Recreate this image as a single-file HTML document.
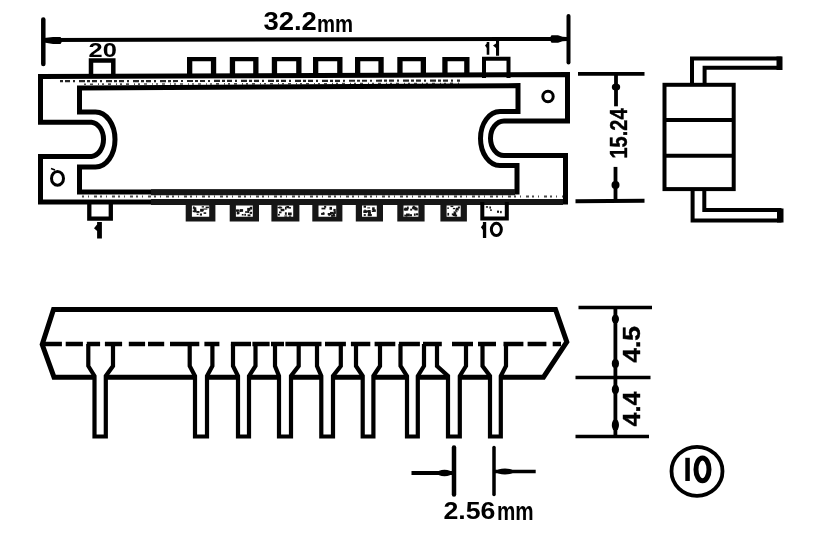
<!DOCTYPE html>
<html><head><meta charset="utf-8"><title>IC package drawing</title>
<style>
html,body{margin:0;padding:0;background:#fff;width:837px;height:533px;overflow:hidden}
svg{display:block;filter:grayscale(1)}
text{font-family:"Liberation Sans",sans-serif;font-weight:bold;fill:#000}
</style></head><body>
<svg width="837" height="533" viewBox="0 0 837 533">
<rect width="837" height="533" fill="#fff"/>
<g fill="none" stroke="#000" stroke-width="4" stroke-linejoin="miter">

<!-- ===== 32.2mm dimension ===== -->
<line x1="43.3" y1="19.5" x2="43.3" y2="64" stroke-width="4.5" stroke-linecap="round"/>
<line x1="568.5" y1="16" x2="568.5" y2="62.5" stroke-width="4" stroke-linecap="round"/>
<line x1="43" y1="40" x2="568" y2="38.9" stroke-width="4"/>

<!-- ===== Top view: outer body ===== -->
<path d="M40.5 76.6 L567.5 74.6 V121 H504 A13.5 17.25 0 0 0 504 155.5 H565.5 V201.9 H40.5 V156.5 H91.5 A13 17.2 0 0 0 91.5 122.2 H40.5 Z" stroke-width="5"/>
<!-- inner body -->
<path d="M79.5 88 L518 85.6 V111.5 H500 A19.5 27 0 0 0 500 165.5 H517 V192 H79.5 V167 H95.5 A19.5 27.5 0 0 0 95.5 112 H79.5 Z" stroke-width="5"/>
<line x1="151" y1="202" x2="563" y2="202" stroke="#161616" stroke-width="6"/>
<line x1="151" y1="192.2" x2="515" y2="192.2" stroke="#161616" stroke-width="6"/>
<!-- noise bands -->
<line x1="60" y1="81.2" x2="460" y2="80.6" stroke-width="2.2" stroke-dasharray="3 2 5 3 2 4 6 2" opacity="0.85"/>
<line x1="84" y1="84.2" x2="460" y2="83.4" stroke-width="1.6" stroke-dasharray="2 4 3 5 1 3" opacity="0.7"/>
<line x1="82" y1="196.5" x2="563" y2="196.5" stroke-width="1.8" stroke-dasharray="2 4 1 5 3 3" opacity="0.7"/>

<!-- top pins -->
<path d="M91 78 V60.5 H113.3 V78" stroke-width="4.5"/>
<path fill="#000" stroke="none" fill-rule="evenodd" d="M187 56.9 H216.2 V76 H187 Z M192.3 61.2 V75 H210.9 V61.2 Z"/>
<path fill="#000" stroke="none" fill-rule="evenodd" d="M229.8 56.9 H258.5 V76 H229.8 Z M235.1 61.2 V75 H253.2 V61.2 Z"/>
<path fill="#000" stroke="none" fill-rule="evenodd" d="M271.8 56.9 H301.5 V76 H271.8 Z M277.1 61.2 V75 H296.2 V61.2 Z"/>
<path fill="#000" stroke="none" fill-rule="evenodd" d="M313 56.9 H342.5 V76 H313 Z M318.3 61.2 V75 H337.2 V61.2 Z"/>
<path fill="#000" stroke="none" fill-rule="evenodd" d="M355 56.9 H383.7 V76 H355 Z M360.3 61.2 V75 H378.4 V61.2 Z"/>
<path fill="#000" stroke="none" fill-rule="evenodd" d="M397.3 56.9 H426 V76 H397.3 Z M402.6 61.2 V75 H420.7 V61.2 Z"/>
<path fill="#000" stroke="none" fill-rule="evenodd" d="M442.3 56.9 H469.5 V76 H442.3 Z M447.6 61.2 V75 H464.2 V61.2 Z"/>
<path d="M484 78 V58.8 H508.5 V78"/>

<!-- bottom pins -->
<path d="M89.3 202 V218.7 H110.8 V202" stroke-width="4.3"/>
<g stroke="none">
<path fill="#161616" fill-rule="evenodd" d="M185.7 200 H215.4 V221.6 H185.7 Z M191.9 205.5 V216.8 H209.2 V205.5 Z"/>
<path fill="#161616" fill-rule="evenodd" d="M229.7 200 H259 V221.6 H229.7 Z M235.9 205.5 V216.8 H252.8 V205.5 Z"/>
<path fill="#161616" fill-rule="evenodd" d="M271.4 200 H299.4 V221.6 H271.4 Z M277.6 205.5 V216.8 H293.2 V205.5 Z"/>
<path fill="#161616" fill-rule="evenodd" d="M312.3 200 H342.4 V221.6 H312.3 Z M318.5 205.5 V216.8 H336.2 V205.5 Z"/>
<path fill="#161616" fill-rule="evenodd" d="M355.8 200 H383 V221.6 H355.8 Z M362.0 205.5 V216.8 H376.8 V205.5 Z"/>
<path fill="#161616" fill-rule="evenodd" d="M397.3 200 H424.6 V221.6 H397.3 Z M403.5 205.5 V216.8 H418.4 V205.5 Z"/>
<path fill="#161616" fill-rule="evenodd" d="M440.4 200 H466.9 V221.6 H440.4 Z M446.6 205.5 V216.8 H460.7 V205.5 Z"/>
</g>
<g fill="#161616" stroke="none"><rect x="201.7" y="206.2" width="2.3" height="1.3"/><rect x="192.7" y="210.4" width="2.8" height="1.7"/><rect x="193.0" y="206.4" width="1.6" height="1.9"/><rect x="193.7" y="207.4" width="2.6" height="2.7"/><rect x="200.1" y="208.8" width="3.1" height="2.9"/><rect x="203.4" y="208.5" width="3.9" height="1.1"/><rect x="196.7" y="213.7" width="1.9" height="1.2"/><rect x="201.7" y="208.9" width="2.0" height="2.2"/><rect x="192.8" y="207.6" width="2.9" height="1.1"/><rect x="196.3" y="211.0" width="3.2" height="1.9"/><rect x="203.6" y="212.3" width="2.6" height="1.6"/><rect x="199.9" y="213.5" width="2.1" height="2.1"/><rect x="205.6" y="206.6" width="3.3" height="1.6"/><rect x="194.1" y="209.8" width="2.5" height="2.5"/><rect x="247.6" y="210.6" width="1.6" height="2.3"/><rect x="245.1" y="211.2" width="3.7" height="1.6"/><rect x="247.6" y="214.4" width="2.9" height="1.9"/><rect x="236.8" y="211.8" width="2.7" height="2.3"/><rect x="247.2" y="207.9" width="3.1" height="3.0"/><rect x="236.2" y="209.6" width="2.5" height="2.3"/><rect x="236.8" y="213.2" width="1.9" height="1.2"/><rect x="241.8" y="214.0" width="1.8" height="1.5"/><rect x="244.3" y="213.8" width="1.7" height="1.9"/><rect x="239.6" y="209.1" width="3.5" height="2.7"/><rect x="249.8" y="206.8" width="2.4" height="2.8"/><rect x="239.4" y="210.3" width="1.9" height="1.5"/><rect x="236.0" y="209.6" width="3.0" height="1.5"/><rect x="249.7" y="211.8" width="2.4" height="2.1"/><rect x="286.3" y="206.0" width="2.8" height="2.2"/><rect x="288.0" y="212.5" width="3.7" height="2.6"/><rect x="279.0" y="211.5" width="2.5" height="1.8"/><rect x="280.5" y="207.1" width="1.7" height="1.1"/><rect x="277.6" y="207.0" width="2.4" height="1.1"/><rect x="278.0" y="213.9" width="1.8" height="1.7"/><rect x="280.8" y="209.0" width="3.0" height="1.3"/><rect x="288.8" y="215.5" width="2.4" height="1.2"/><rect x="278.7" y="206.5" width="2.7" height="2.0"/><rect x="288.6" y="207.1" width="2.4" height="1.5"/><rect x="285.0" y="206.7" width="1.6" height="2.9"/><rect x="284.3" y="215.5" width="2.9" height="1.1"/><rect x="280.7" y="208.8" width="3.7" height="2.4"/><rect x="284.9" y="212.3" width="1.9" height="2.5"/><rect x="331.0" y="215.2" width="2.3" height="1.4"/><rect x="330.0" y="211.9" width="3.6" height="2.6"/><rect x="324.1" y="205.8" width="2.1" height="2.0"/><rect x="322.7" y="212.2" width="1.6" height="1.6"/><rect x="331.4" y="214.8" width="3.9" height="1.9"/><rect x="321.5" y="207.7" width="3.9" height="1.7"/><rect x="328.3" y="214.4" width="2.0" height="1.4"/><rect x="327.7" y="213.0" width="3.6" height="2.0"/><rect x="333.0" y="212.5" width="1.7" height="2.3"/><rect x="321.1" y="212.9" width="3.4" height="2.0"/><rect x="333.4" y="208.9" width="2.3" height="2.6"/><rect x="329.5" y="206.9" width="2.5" height="2.9"/><rect x="332.9" y="213.6" width="1.8" height="1.3"/><rect x="334.0" y="211.2" width="1.9" height="2.7"/><rect x="363.6" y="205.6" width="2.4" height="2.1"/><rect x="367.7" y="213.9" width="3.9" height="2.3"/><rect x="372.1" y="207.3" width="2.6" height="2.7"/><rect x="365.0" y="211.2" width="2.1" height="1.6"/><rect x="363.7" y="214.1" width="2.1" height="1.8"/><rect x="369.2" y="214.0" width="2.4" height="1.9"/><rect x="368.1" y="210.0" width="2.6" height="2.8"/><rect x="367.3" y="207.4" width="2.8" height="1.0"/><rect x="364.3" y="209.6" width="1.5" height="2.6"/><rect x="365.7" y="210.3" width="3.3" height="2.1"/><rect x="363.3" y="210.4" width="2.9" height="2.6"/><rect x="371.8" y="210.4" width="2.1" height="1.6"/><rect x="372.9" y="209.4" width="2.9" height="2.5"/><rect x="368.0" y="211.9" width="3.0" height="2.0"/><rect x="409.4" y="214.2" width="2.6" height="2.1"/><rect x="414.5" y="207.7" width="3.2" height="2.8"/><rect x="413.6" y="206.7" width="2.9" height="2.9"/><rect x="404.5" y="207.8" width="1.8" height="1.9"/><rect x="413.9" y="213.5" width="1.7" height="2.3"/><rect x="412.1" y="206.8" width="1.9" height="2.4"/><rect x="406.0" y="213.5" width="3.7" height="2.9"/><rect x="415.8" y="213.3" width="2.5" height="2.0"/><rect x="410.2" y="208.7" width="1.9" height="1.9"/><rect x="412.8" y="205.7" width="2.0" height="1.6"/><rect x="403.7" y="208.6" width="2.9" height="1.9"/><rect x="404.3" y="214.6" width="3.1" height="2.0"/><rect x="404.7" y="207.7" width="3.5" height="2.9"/><rect x="407.1" y="206.6" width="1.6" height="2.6"/><rect x="456.1" y="207.7" width="2.6" height="2.8"/><rect x="453.6" y="211.4" width="1.9" height="2.8"/><rect x="455.1" y="209.8" width="1.7" height="1.1"/><rect x="454.5" y="212.3" width="1.7" height="2.9"/><rect x="447.4" y="212.9" width="1.7" height="2.7"/><rect x="452.9" y="214.4" width="2.6" height="1.7"/><rect x="452.9" y="207.9" width="2.2" height="1.3"/><rect x="447.2" y="207.5" width="1.8" height="1.3"/><rect x="455.6" y="208.3" width="2.3" height="1.6"/><rect x="450.5" y="205.7" width="2.8" height="1.4"/><rect x="455.4" y="211.2" width="2.1" height="1.0"/><rect x="457.9" y="206.5" width="2.0" height="1.9"/><rect x="451.8" y="213.4" width="3.5" height="1.9"/><rect x="454.6" y="214.6" width="2.5" height="2.0"/><rect x="497.0" y="210.6" width="2.0" height="2.2"/><rect x="485.9" y="206.2" width="2.1" height="1.5"/><rect x="489.4" y="206.5" width="1.6" height="2.1"/><rect x="500.1" y="210.9" width="1.6" height="2.3"/><rect x="490.0" y="209.4" width="1.9" height="1.4"/></g>
<path d="M482.3 202 V218.5 H506.8 V202" stroke-width="4"/>

<!-- holes -->
<ellipse cx="57.5" cy="178.4" rx="6" ry="6.8" stroke-width="3"/>
<line x1="51" y1="168.5" x2="55" y2="170" stroke-width="1.5"/>
<circle cx="548" cy="96.5" r="5.2" stroke-width="3"/>

<!-- ===== side view ===== -->
<rect x="664.5" y="84.8" width="69.2" height="104.3"/>
<line x1="664.5" y1="120" x2="733.7" y2="120"/>
<line x1="664.5" y1="155.8" x2="733.7" y2="155.8"/>
<path d="M692 84.7 V58.4 H779.5 V67.8 H704.6 V84.7"/>
<path d="M692.6 189 V220.5 H779.5 V210 H704.3 V189"/>
<rect x="776.5" y="56.5" width="6" height="13.5" fill="#000" stroke="none"/>
<rect x="777" y="208.5" width="6.5" height="14" fill="#000" stroke="none"/>

<!-- ===== 15.24 dimension ===== -->
<line x1="578" y1="73.9" x2="644.5" y2="73.9" stroke-width="3.8"/>
<line x1="575.5" y1="201.3" x2="644.5" y2="200.8" stroke-width="4"/>
<line x1="616" y1="73.5" x2="616" y2="106.3" stroke-width="3.8"/>
<line x1="615.5" y1="166.9" x2="615.5" y2="200.6" stroke-width="3.8"/>

<!-- ===== front view ===== -->
<path d="M53.5 309.5 H555.5 L566.8 342 L543.5 377.2 H54 L42.2 344.5 Z" stroke-width="5"/>


<!-- front dims -->
<line x1="578.5" y1="307.4" x2="652" y2="307.4" stroke-width="3.5"/>
<line x1="575.5" y1="377.6" x2="650.5" y2="377.6" stroke-width="3.5"/>
<line x1="575.5" y1="436.4" x2="649" y2="436.4" stroke-width="3.5"/>
<line x1="615.4" y1="307.4" x2="615.4" y2="436.4" stroke-width="3.8"/>

<!-- 2.56mm -->
<line x1="454" y1="447.5" x2="454" y2="494.5" stroke-width="4.5" stroke-linecap="round"/>
<line x1="494" y1="447.5" x2="494" y2="494.5" stroke-width="3.5" stroke-linecap="round"/>
<line x1="411.5" y1="473" x2="454" y2="473" stroke-width="4"/>
<line x1="494" y1="471.5" x2="535.7" y2="471.5" stroke-width="3.5"/>

<!-- circled 10 -->
<ellipse cx="697" cy="471.3" rx="25.5" ry="24.5" stroke-width="3.8"/>
<ellipse cx="702.5" cy="469.4" rx="6.5" ry="11.4" stroke-width="5"/>
</g>

<!-- front pins -->
<g fill="#fff" stroke="#000" stroke-width="4.2">
<path d="M88.3 344 V366 L94.5 376 V436.5 H105.8 V376 L113 366 V344"/>
<path d="M189.7 344 V366 L195 376 V436.5 H207 V376 L212.4 366 V344"/>
<path d="M233 344 V366 L238 376 V436.5 H249 V376 L255.5 366 V344"/>
<path d="M275 344 V366 L279 376 V436.5 H291 V376 L298.7 366 V344"/>
<path d="M317 344 V366 L321.3 376 V436.5 H333 V376 L340.8 366 V344"/>
<path d="M356 344 V366 L362.7 376 V436.5 H373.4 V376 L380 366 V344"/>
<path d="M400.5 344 V366 L407 376 V436.5 H417.8 V376 L424 366 V344"/>
<path d="M437 344 V366 L448 376 V436.5 H459.8 V376 L466 366 V344"/>
<path d="M482.5 344 V366 L490 376 V436.5 H500.8 V376 L506 366 V344"/>
</g>

<g fill="none" stroke="#000"><path d="M41.8 344 H61.9 M65.7 344 H82.9 M86.8 344 H100.1 M104.9 344 H122.1 M128.8 344 H145.1 M148 344 H164.2 M170 344 H199.3 M204.4 344 H219.4 M230.9 344 H251 M252.4 344 H269.6 M271 344 H284 M285.4 344 H321.5 M325 344 H345.9 M350.9 344 H370.3 M374.6 344 H395.3 M398.9 344 H419.9 M423 344 H441.8 M452 344 H473 M478 344 H496 M503.5 344 H523.4 M527.6 344 H546.4 M552.7 344 H561" stroke-width="4.4"/></g>
<!-- arrowheads (blobs) -->
<g fill="#000" stroke="none">
<path d="M44 38 L53 36.9 H60.5 Q63.5 40.4 60.5 44 H53 L44 42.5 Z"/>
<path d="M551.5 35.2 H558 L562.5 36.8 L567 37 V41 L562.5 41.2 L558 42.7 H551.5 Q548.5 38.9 551.5 35.2 Z"/>
<ellipse cx="616" cy="87" rx="4.2" ry="3.5"/>
<ellipse cx="615.5" cy="185" rx="4" ry="4"/>
<ellipse cx="615.4" cy="319" rx="3.6" ry="4.6"/>
<ellipse cx="615.4" cy="363.5" rx="3.6" ry="4.5"/>
<ellipse cx="615.4" cy="389.5" rx="3.6" ry="5"/>
<ellipse cx="615.4" cy="425" rx="3.6" ry="6"/>
<ellipse cx="444.5" cy="473" rx="7.5" ry="3.2"/>
<ellipse cx="505" cy="471.5" rx="9" ry="3"/>
<!-- glyph "1" labels -->
<path d="M97.1 222 H101.9 V238.6 H97.1 V231 L94 228.3 L97.1 224.5 Z"/>
<path d="M482.9 222.1 H486.2 V237.9 H482.9 V230 L480.9 227.2 L482.9 224.5 Z"/>
<path d="M486.7 42 H489.3 V54.7 H486.7 V48 L485 45.5 L486.7 43.5 Z"/>
<path d="M496 40.6 H499.1 V55.8 H496 V48 L493 45.5 L496 43.5 Z"/>
<path d="M685.3 457.8 H689.8 V481 H685.3 Z"/>
</g>
<ellipse cx="496.35" cy="229.4" rx="5" ry="6.1" fill="none" stroke="#000" stroke-width="3"/>

<!-- text -->
<text x="263.4" y="30.1" font-size="26" textLength="53.5" lengthAdjust="spacingAndGlyphs">32.2</text>
<text x="317" y="31.9" font-size="24.8" textLength="36.1" lengthAdjust="spacingAndGlyphs">mm</text>
<text x="88.6" y="56.8" font-size="20.5" textLength="28.3" lengthAdjust="spacingAndGlyphs">20</text>
<g font-weight="normal" stroke="#000" stroke-width="0.4">
<text transform="translate(626.5,158.5) rotate(-90)" font-size="24" textLength="50" lengthAdjust="spacingAndGlyphs" font-weight="normal">15.24</text>
<text transform="translate(640,362.7) rotate(-90)" font-size="24" textLength="36.8" lengthAdjust="spacingAndGlyphs" font-weight="normal">4.5</text>
<text transform="translate(640,426.4) rotate(-90)" font-size="24" textLength="35" lengthAdjust="spacingAndGlyphs" font-weight="normal">4.4</text>
</g>
<text x="443.4" y="518.9" font-size="24.5" textLength="52" lengthAdjust="spacingAndGlyphs">2.56</text>
<text x="497" y="520.1" font-size="26" textLength="36.7" lengthAdjust="spacingAndGlyphs">mm</text>
</svg>
</body></html>
